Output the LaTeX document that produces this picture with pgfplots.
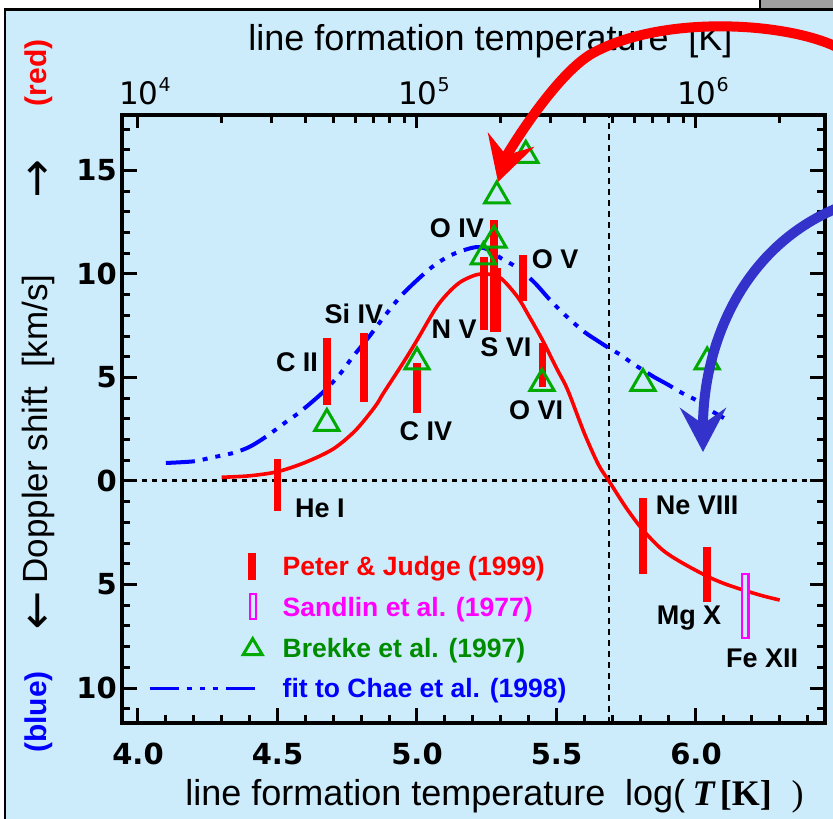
\documentclass[border=0pt]{standalone}
\usepackage{fontspec}
\setmainfont{Liberation Sans}
\newfontfamily\dejavu{DejaVu Sans}
\newfontfamily\timesfont{Liberation Serif}
\usepackage{pgfplots}
\usepackage{pgfplotstable}
\pgfplotsset{compat=1.18}
\usetikzlibrary{arrows.meta}

\definecolor{panel}{RGB}{204,236,252}
\definecolor{tabgray}{RGB}{160,160,160}
\definecolor{brekke}{RGB}{0,170,0}
\definecolor{brekketext}{RGB}{0,140,0}
\definecolor{chae}{RGB}{0,0,255}
\definecolor{sandlin}{RGB}{255,0,255}
\definecolor{pointer}{RGB}{51,51,204}

% Peter & Judge (1999): centre and half range of each measured shift
\pgfplotstableread{
x      y      err
4.500  -0.20  1.25
4.677   5.29  1.62
4.810   5.48  1.68
5.000   4.50  1.20
5.240   9.05  1.76
5.276   9.90  2.70
5.287   8.75  1.55
5.380   9.80  1.10
5.450   5.60  1.07
5.810  -2.65  1.83
6.040  -4.52  1.33
}\peterjudge

% Brekke et al. (1997)
\pgfplotstableread{
x      y
4.677   2.78
5.000   5.75
5.238  10.83
5.276  11.63
5.286  13.77
5.390  15.73
5.448   4.71
5.810   4.71
6.040   5.75
}\brekkedata

% fit through the Peter & Judge shifts
\pgfplotstableread{
x      y
4.30   0.18
4.40   0.25
4.50   0.45
4.60   0.90
4.70   1.55
4.78   2.45
4.85   3.60
4.88   4.25
4.95   5.70
5.00   6.80
5.07   8.40
5.12   9.20
5.16   9.65
5.21   9.95
5.25  10.00
5.30   9.80
5.36   8.90
5.40   8.00
5.45   6.80
5.50   5.45
5.54   4.40
5.60   2.30
5.65   0.80
5.688  0.00
5.75  -1.30
5.81  -2.37
5.88  -3.33
5.95  -3.95
6.04  -4.60
6.10  -4.95
6.17  -5.27
6.24  -5.55
6.30  -5.75
}\pjfit

% fit to Chae et al. (1998)
\pgfplotstableread{
x      y
4.10   0.87
4.20   0.95
4.26   1.12
4.34   1.35
4.40   1.65
4.46   2.15
4.52   2.75
4.58   3.33
4.66   4.25
4.72   5.10
4.77   6.00
4.83   7.00
4.88   7.90
4.94   8.90
5.00   9.70
5.06  10.40
5.12  10.90
5.18  11.20
5.22  11.30
5.26  11.15
5.30  10.77
5.36  10.30
5.42   9.60
5.48   8.70
5.54   7.90
5.60   7.20
5.65   6.75
5.688  6.42
5.73   6.09
5.77   5.70
5.81   5.36
5.85   5.02
5.90   4.65
5.95   4.25
6.00   3.91
6.05   3.43
6.10   3.04
}\chaefit

\newcommand\tenpow[1]{10\raisebox{13pt}{\fontsize{19}{20}\selectfont #1}}

\tikzset{
  ion/.style={font=\bfseries\fontsize{27}{30}\selectfont, inner sep=0pt,
    text height=19.3pt, text depth=0pt},
}

\begin{document}
\begin{tikzpicture}
\path[use as bounding box] (0pt,0pt) rectangle (833pt,819pt);
\fill[white] (0pt,0pt) rectangle (833pt,819pt);
\fill[panel] (5pt,0pt) rectangle (833pt,809.5pt);
\fill[tabgray] (760pt,809.5pt) rectangle (833pt,819pt);
\draw[line width=2.5pt] (5pt,0pt) -- (5pt,809.5pt) -- (833pt,809.5pt);
\draw[line width=2.5pt] (760pt,809.5pt) -- (760pt,819pt);

% upper axis: temperature in kelvin on a log scale
\begin{axis}[
  at={(122pt,96pt)}, anchor=south west,
  width=703pt, height=608pt, scale only axis,
  xmin=3.9427, xmax=6.4624, ymin=0, ymax=1,
  hide y axis,
  axis line style={line width=4pt},
  xtick pos=right, xticklabel pos=right, tick align=inside,
  every tick/.style={black, line width=3pt},
  major tick length=13pt, minor tick length=8pt,
  xtick={4,5,6},
  xticklabels={\tenpow{4},\tenpow{5},\tenpow{6}},
  minor xtick={4.30103,4.47712,4.60206,4.69897,4.77815,4.84510,4.90309,4.95424,
               5.30103,5.47712,5.60206,5.69897,5.77815,5.84510,5.90309,5.95424,
               6.30103},
  xticklabel style={font=\dejavu\fontsize{31}{34}\selectfont, inner sep=0pt,
    anchor=south, yshift=10pt, xshift=7pt},
]
\end{axis}

% main axis: Doppler shift against log T
\begin{axis}[
  at={(122pt,96pt)}, anchor=south west,
  width=703pt, height=608pt, scale only axis,
  xmin=3.9427, xmax=6.4624, ymin=-11.69, ymax=17.68,
  clip=false,
  axis line style={line width=4pt},
  every tick/.style={black, line width=3pt},
  major tick length=15pt, minor tick length=8pt,
  tick align=inside,
  xtick pos=left, ytick pos=both, yticklabel pos=left,
  xtick={4,4.5,5,5.5,6},
  xticklabels={4.0,4.5,5.0,5.5,6.0},
  minor xtick={4.1,4.2,4.3,4.4,4.6,4.7,4.8,4.9,5.1,5.2,5.3,5.4,5.6,5.7,5.8,5.9,6.1,6.2,6.3,6.4},
  ytick={-10,-5,0,5,10,15},
  yticklabels={10,5,0,5,10,15},
  minor ytick={-11,-9,-8,-7,-6,-4,-3,-2,-1,1,2,3,4,6,7,8,9,11,12,13,14,16,17},
  xticklabel style={font=\dejavu\bfseries\fontsize{29}{32}\selectfont, inner sep=0pt,
    anchor=north, yshift=-20pt},
  yticklabel style={font=\dejavu\bfseries\fontsize{29}{32}\selectfont, inner sep=0pt,
    anchor=east, xshift=-5pt},
  legend style={draw=none, fill=none, at={(0.037,0.2804)}, anchor=north west,
    inner sep=0pt, row sep=13.7pt, column sep=19pt,
    nodes={inner sep=0pt, text height=19pt, text depth=0pt, anchor=west}},
]
% legend entries
\addlegendimage{legend image code/.code={
  \path[draw=none, fill=none] (0pt,-13.5pt) rectangle (108pt,13.5pt);
  \fill[red, draw=none] (98pt,-13.5pt) rectangle (106pt,13.5pt);}}
\addlegendentry{\color{red}\bfseries\fontsize{26.5}{30}\selectfont Peter \& Judge (1999)}
\addlegendimage{legend image code/.code={
  \path[draw=none, fill=none] (0pt,-13.5pt) rectangle (108pt,13.5pt);
  \draw[sandlin, fill=none, line width=2pt] (100.5pt,-12.5pt) rectangle (106.5pt,12.5pt);}}
\addlegendentry{\color{sandlin}\bfseries\fontsize{26.5}{30}\selectfont Sandlin et al. (1977)}
\addlegendimage{legend image code/.code={
  \path[draw=none, fill=none] (0pt,-13.5pt) rectangle (108pt,13.5pt);
  \draw[brekke, fill=none, line width=3pt] (103pt,9pt) -- (112.5pt,-7pt) -- (93.5pt,-7pt) -- cycle;}}
\addlegendentry{\color{brekketext}\bfseries\fontsize{26.5}{30}\selectfont Brekke et al. (1997)}
\addlegendimage{legend image code/.code={
  \path[draw=none, fill=none] (0pt,-13.5pt) rectangle (108pt,13.5pt);
  \draw[chae, line width=3pt, dash pattern=on 29pt off 8pt on 5pt off 8pt on 5pt off 8pt on 5pt off 8pt]
    (0pt,0pt) -- (105pt,0pt);}}
\addlegendentry{\color{chae}\bfseries\fontsize{26.5}{30}\selectfont fit to Chae et al. (1998)}

% reference lines: zero shift and the boundary temperature
\draw[line width=3pt, dash pattern=on 5pt off 5pt]
  (axis cs:3.9427,0) -- (axis cs:6.4624,0);
\draw[line width=2.8pt, dash pattern=on 6pt off 5pt]
  (axis cs:5.688,-11.69) -- (axis cs:5.688,17.68);

% fitted curves
\addplot[forget plot, red, line width=3.6pt, smooth] table {\pjfit};
\addplot[forget plot, chae, line width=4pt, smooth,
  dash pattern=on 29pt off 8pt on 5pt off 8pt on 5pt off 8pt on 5pt off 8pt] table {\chaefit};

% Brekke et al. (1997)
\addplot[forget plot, only marks, mark=triangle, mark size=14pt,
  mark options={draw=brekke, line width=3pt, fill=none}] table {\brekkedata};

% Peter & Judge (1999)
\addplot[forget plot, draw=none, mark=none,
  error bars/.cd, y dir=both, y explicit, error mark=none,
  error bar style={red, line width=7.5pt}]
  table[x=x, y=y, y error=err] {\peterjudge};

% Sandlin et al. (1977), Fe XII
\addplot[forget plot, draw=sandlin, line width=2.2pt, fill=panel]
  coordinates {(6.1635,-4.49) (6.1885,-4.49) (6.1885,-7.58) (6.1635,-7.58)} -- cycle;

% line identifications
\node[ion] at (axis cs:4.652,-1.28) {He I};
\node[ion] at (axis cs:4.570,5.75) {C II};
\node[ion] at (axis cs:4.774,8.07) {Si IV};
\node[ion] at (axis cs:5.032,2.42) {C IV};
\node[ion] at (axis cs:5.133,7.34) {N V};
\node[ion] at (axis cs:5.143,12.22) {O IV};
\node[ion] at (axis cs:5.319,6.47) {S VI};
\node[ion] at (axis cs:5.495,10.72) {O V};
\node[ion] at (axis cs:5.427,3.43) {O VI};
\node[ion] at (axis cs:6.004,-1.16) {Ne VIII};
\node[ion] at (axis cs:5.975,-6.45) {Mg X};
\node[ion] at (axis cs:6.237,-8.55) {Fe XII};
\end{axis}

% axis titles
\node[anchor=base, font=\fontsize{36}{40}\selectfont] at (490.5pt,768pt)
  {line formation temperature\hspace{0.55em}[K]};
\node[anchor=base, font=\fontsize{36}{40}\selectfont] at (494.5pt,13pt)
  {line formation temperature\hspace{0.55em}log(\hspace{0.2em}{\timesfont\bfseries\itshape T}\hspace{0.15em}{\timesfont\bfseries [K]}\hspace{0.55em}{\timesfont )}};
\node[anchor=base, rotate=90, font=\fontsize{35}{40}\selectfont] at (47pt,390pt)
  {Doppler shift\hspace{0.55em}[km/s]};
\node[font=\dejavu\fontsize{46}{50}\selectfont] at (38pt,640pt) {↑};
\node[font=\dejavu\fontsize{46}{50}\selectfont] at (38pt,208pt) {↓};
\node[rotate=90, red, font=\bfseries\fontsize{30}{34}\selectfont] at (39pt,746pt) {(red)};
\node[rotate=90, blue, font=\bfseries\fontsize{30}{34}\selectfont] at (39pt,107pt) {(blue)};

% pointers
\draw[red, line width=10pt, -{Stealth[length=44pt, width=48pt, inset=16pt]}]
  (850pt,764pt) .. controls (810pt,795pt) and (670pt,808pt) .. (593pt,766pt)
  .. controls (555pt,745pt) and (506pt,663pt) .. (498pt,637pt);
\draw[pointer, line width=10pt, -{Stealth[length=44pt, width=46pt, inset=16pt]}]
  (845pt,614pt) .. controls (740pt,575pt) and (703pt,470pt) .. (703pt,367pt);
\end{tikzpicture}
\end{document}
